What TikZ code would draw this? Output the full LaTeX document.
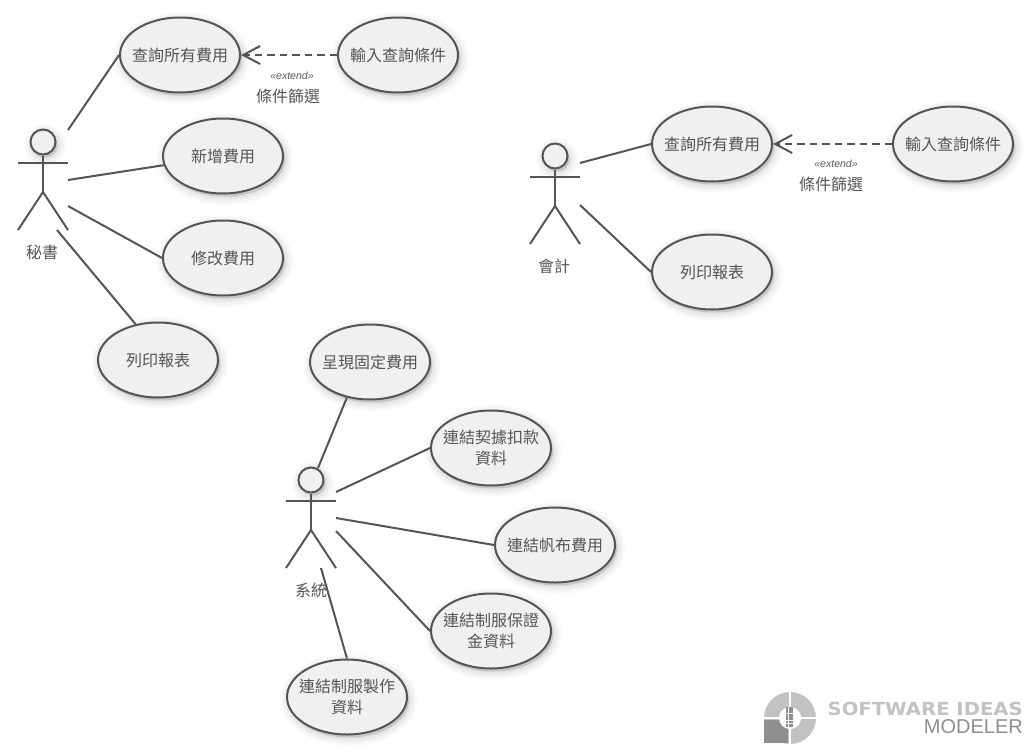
\documentclass[tikz,border=0pt]{standalone}
\usepackage{fontspec}
\setmainfont{Noto Sans CJK TC}
\newfontfamily\latinsans{Liberation Sans}
\newfontfamily\logosans[FakeStretch=1.09]{DejaVu Sans}
\usetikzlibrary{shapes.geometric,arrows.meta}
\definecolor{ink}{HTML}{555555}
\definecolor{txt}{HTML}{555555}
\definecolor{paper}{HTML}{F0F0F0}
\definecolor{logolight}{HTML}{C2C2C2}
\definecolor{logodark}{HTML}{8F8F8F}
\tikzset{
  softshadow/.style={
    preaction={draw=black,fill=black,draw opacity=.014,fill opacity=.014,line width=18pt,transform canvas={shift={(2pt,-3pt)}}},
    preaction={draw=black,fill=black,draw opacity=.02,fill opacity=.02,line width=14pt,transform canvas={shift={(2pt,-3pt)}}},
    preaction={draw=black,fill=black,draw opacity=.025,fill opacity=.025,line width=10pt,transform canvas={shift={(2pt,-3pt)}}},
    preaction={draw=black,fill=black,draw opacity=.03,fill opacity=.03,line width=6pt,transform canvas={shift={(2pt,-3pt)}}},
    preaction={draw=black,fill=black,draw opacity=.03,fill opacity=.03,line width=2pt,transform canvas={shift={(2pt,-3pt)}}}},
  usecase/.style={ellipse,softshadow,draw=ink,fill=paper,line width=2pt,minimum width=120pt,minimum height=75pt,inner sep=-8pt,align=center,text=txt,font=\fontsize{16}{21}\selectfont},
  actorhead/.style={circle,softshadow,draw=ink,fill=paper,line width=2pt,minimum size=25pt,inner sep=0pt},
  stick/.style={draw=ink,line width=2pt},
  assoc/.style={draw=ink,line width=2pt},
  extendline/.style={draw=ink,line width=2pt,dash pattern=on 7.5pt off 5pt,-{Straight Barb[length=17pt,width=18pt,line width=2pt]}},
  caption/.style={text=txt,inner sep=0pt,font=\fontsize{16}{20}\selectfont},
  stereo/.style={text=txt,inner sep=0pt,font=\latinsans\itshape\fontsize{10.5}{12}\selectfont},
}
\begin{document}
\begin{tikzpicture}[x=1pt,y=-1pt]
\useasboundingbox (0,0) rectangle (1033,755);
\fill[white] (0,0) rectangle (1033,755);

% use cases
\node[usecase] (q1) at (180,55) {\raisebox{1pt}{查詢所有費用}};
\node[usecase] (i1) at (398,55) {\raisebox{1pt}{輸入查詢條件}};
\node[usecase] (n1) at (223,156) {\raisebox{1pt}{新增費用}};
\node[usecase] (m1) at (223,258) {\raisebox{1pt}{修改費用}};
\node[usecase] (p1) at (158,360) {\raisebox{1pt}{列印報表}};
\node[usecase] (q2) at (712,144) {\raisebox{1pt}{查詢所有費用}};
\node[usecase] (i2) at (953,144) {\raisebox{1pt}{輸入查詢條件}};
\node[usecase] (p2) at (712,272) {\raisebox{1pt}{列印報表}};
\node[usecase] (s1) at (370,362) {\raisebox{1pt}{呈現固定費用}};
\node[usecase] (s2) at (491,448) {連結契據扣款\\資料};
\node[usecase] (s3) at (555,545) {\raisebox{1pt}{連結帆布費用}};
\node[usecase] (s4) at (491,631) {連結制服保證\\金資料};
\node[usecase] (s5) at (347,697) {連結制服製作\\資料};

% actors
\node[actorhead] (h1) at (43,142) {};
\node[actorhead] (h2) at (555,156) {};
\node[actorhead] (h3) at (311,480) {};
\foreach \h/\hx/\hy in {h1/43/142,h2/555/156,h3/311/480}{
  \coordinate (\h a) at (\hx-25,\hy+21);
  \coordinate (\h b) at (\hx+25,\hy+21);
  \coordinate (\h c) at (\hx,\hy+50);
  \coordinate (\h d) at (\hx-25,\hy+88);
  \coordinate (\h e) at (\hx+25,\hy+88);
  \draw[stick] (\h a) -- (\h b);
  \draw[stick] (\h) -- (\h c);
  \draw[stick] (\h d) -- (\h c) -- (\h e);
}
\node[caption] (l1) at (42,252) {秘書};
\node[caption] (l2) at (554,266) {會計};
\node[caption] (l3) at (311,590) {系統};

% free ends of the associations
\coordinate (a1) at (68,130);
\coordinate (a2) at (68,180);
\coordinate (a3) at (68,206);
\coordinate (a4) at (57,230);
\coordinate (b1) at (580,163);
\coordinate (b2) at (580,205);
\coordinate (c1) at (318,468);
\coordinate (c2) at (336,492);
\coordinate (c3) at (336,518);
\coordinate (c4) at (336,531);
\coordinate (c5) at (321,568);

\draw[assoc] (a1) -- (q1.west);
\draw[assoc] (a2) -- (n1);
\draw[assoc] (a3) -- (m1.west);
\draw[assoc] (a4) -- (p1.122);
\draw[assoc] (b1) -- (q2.west);
\draw[assoc] (b2) -- (p2.west);
\draw[assoc] (c1) -- (s1.237);
\draw[assoc] (c2) -- (s2.west);
\draw[assoc] (c3) -- (s3.west);
\draw[assoc] (c4) -- (s4.west);
\draw[assoc] (c5) -- (s5.north);

% extend
\draw[extendline] (i1) -- (q1);
\draw[extendline] (i2) -- (q2);
\node[stereo] (e1) at (292,76) {«extend»};
\node[caption] (f1) at (288,96) {條件篩選};
\node[stereo] (e2) at (836,164) {«extend»};
\node[caption] (f2) at (831,184) {條件篩選};

% logo
\begin{scope}[shift={(790,718)}]
  \fill[logolight,even odd rule] (0,0) circle (26) (0,0) circle (11);
  \fill[logodark] (-26,2) rectangle (-2,25);
  \fill[white] (0,0) circle (11);
  \fill[white] (-1,-27) rectangle (1,27);
  \fill[white] (-27,-1) rectangle (27,1);
  \foreach \r in {0,...,5}\foreach \k in {0,1,2}
    \fill[logodark] (-3.6+\k*2.5,-11+\r*3.4) rectangle ++(2,2.8);
\end{scope}
\node[anchor=east,inner sep=0pt,text=logolight,font=\logosans\bfseries\fontsize{18}{18}\selectfont] (lg1) at (1023,709) {SOFTWARE IDEAS};
\node[anchor=east,inner sep=0pt,text=logodark,font=\latinsans\fontsize{20}{20}\selectfont] (lg2) at (1023,727) {MODELER};
\end{tikzpicture}
\end{document}
